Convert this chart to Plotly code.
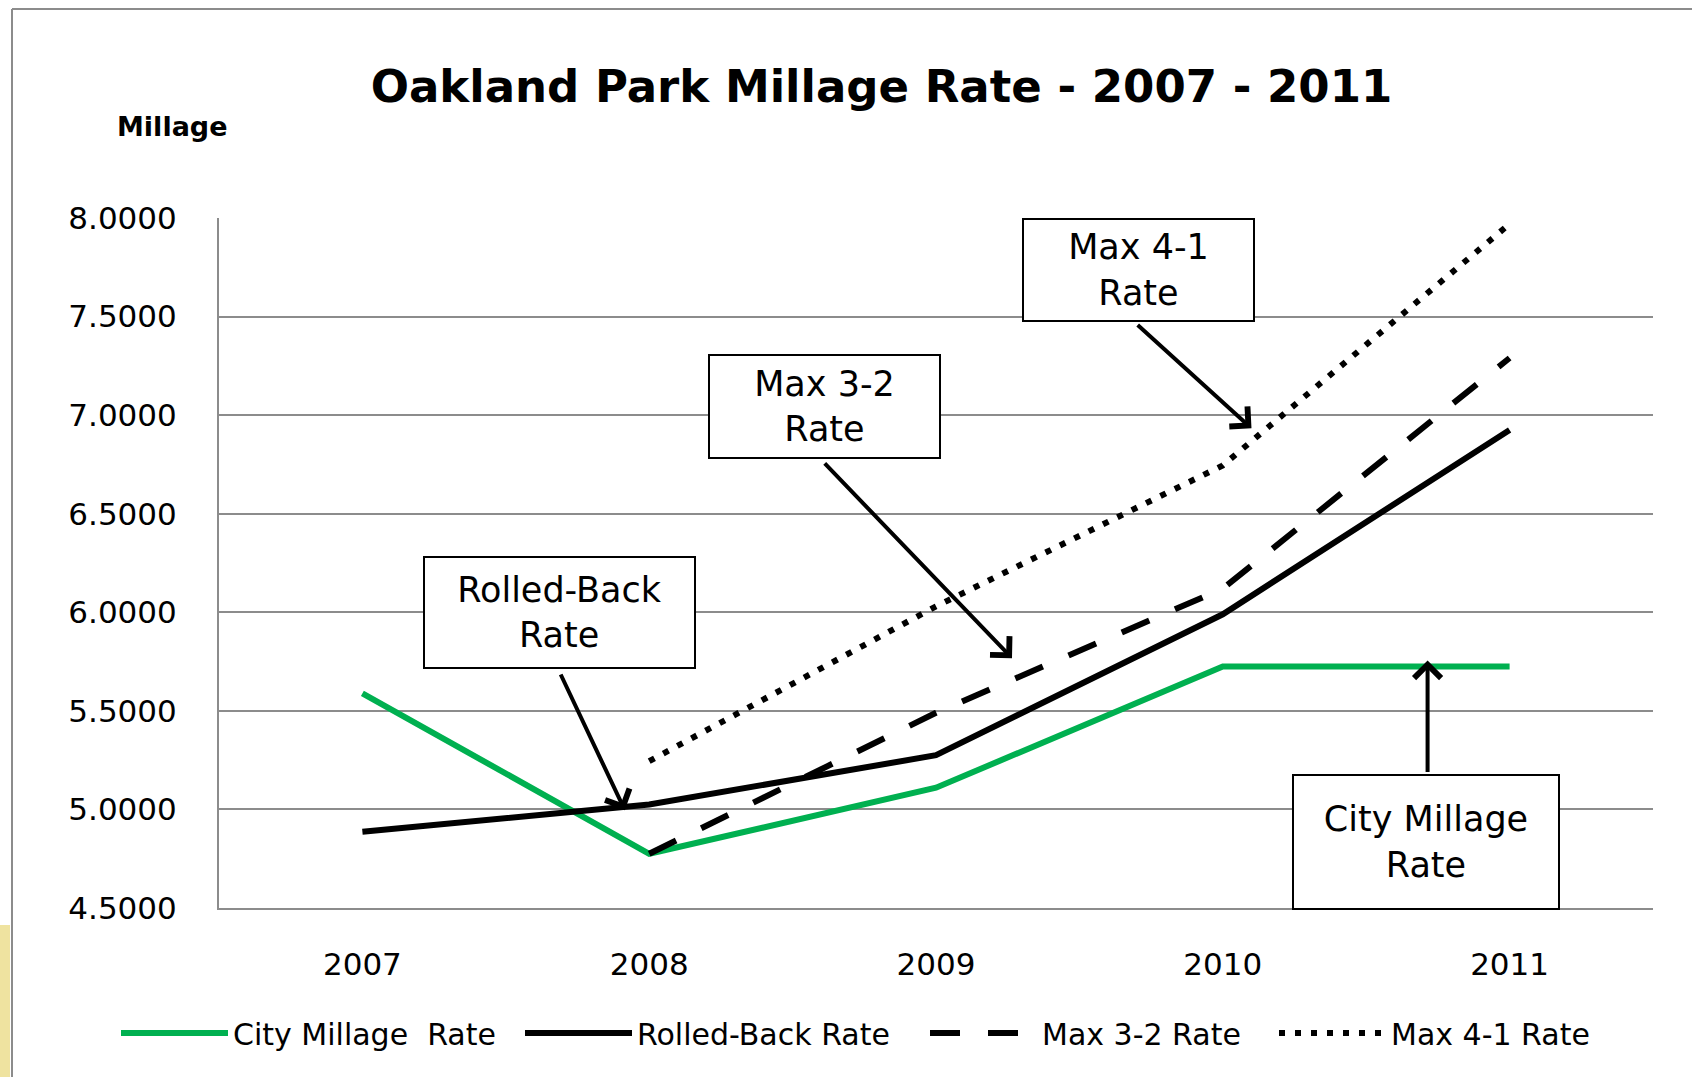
import plotly.graph_objects as go

years = ["2007", "2008", "2009", "2010", "2011"]
city_millage = [5.589, 4.775, 5.110, 5.725, 5.725]
rolled_back = [4.887, 5.025, 5.275, 5.990, 6.925]
max_3_2 = [None, 4.775, 5.490, 6.120, 7.290]
max_4_1 = [None, 5.245, 6.030, 6.745, 7.970]

series_names = ["City Millage  Rate", "Rolled-Back Rate", "Max 3-2 Rate", "Max 4-1 Rate"]
title_text = "Oakland Park Millage Rate - 2007 - 2011"
y_label = "Millage"

# callout boxes: (text, box centre x, box centre y, width px, height px, arrow tail x, tail y, head x, head y)
callouts = [
    ("Rolled-Back<br>Rate", 0.687, 5.999, 273, 113, 0.689, 5.692, 0.915, 4.996),
    ("Max 3-2<br>Rate", 1.611, 7.045, 233, 105, 1.607, 6.763, 2.265, 5.767),
    ("Max 4-1<br>Rate", 2.706, 7.737, 233, 104, 2.698, 7.464, 3.100, 6.933),
    ("City Millage<br>Rate", 3.710, 4.837, 268, 136, 3.714, 5.182, 3.714, 5.756),
]

FONT = "DejaVu Sans"
L, R, T, B = 219, 39, 218, 169
W, H = 1692, 1077
pw, ph = W - L - R, H - T - B


def px_x(p):
    return (p - L) / pw


def px_y(p):
    return (H - B - p) / ph


legend_ids = ["legend", "legend2", "legend3", "legend4"]
legend_line_starts = [121, 525, 930, 1279]

fig = go.Figure()
fig.add_trace(go.Scatter(x=years, y=city_millage, name=series_names[0], mode="lines",
                         legend=legend_ids[0], line=dict(color="#00b050", width=6)))
fig.add_trace(go.Scatter(x=years, y=rolled_back, name=series_names[1], mode="lines",
                         legend=legend_ids[1], line=dict(color="black", width=6)))
fig.add_trace(go.Scatter(x=years, y=max_3_2, name=series_names[2], mode="lines",
                         legend=legend_ids[2], line=dict(color="black", width=6, dash="30px,28px")))
fig.add_trace(go.Scatter(x=years, y=max_4_1, name=series_names[3], mode="lines",
                         legend=legend_ids[3], line=dict(color="black", width=6, dash="6px,10px")))

annotations = []
for text, bx, by, bw, bh, tx, ty, hx, hy in callouts:
    annotations.append(dict(x=hx, y=hy, ax=tx, ay=ty, xref="x", yref="y", axref="x", ayref="y",
                            text="", showarrow=True, arrowhead=4, arrowsize=1.3, arrowwidth=4,
                            arrowcolor="black", standoff=0, startstandoff=0))
    annotations.append(dict(x=bx, y=by, xref="x", yref="y", text=text, showarrow=False,
                            xanchor="center", yanchor="middle", width=bw - 4, height=bh - 4,
                            bgcolor="white", bordercolor="black", borderwidth=2, borderpad=0,
                            font=dict(family=FONT, size=35, color="black"), align="center"))

annotations.append(dict(x=px_x(172), y=px_y(127), xref="paper", yref="paper",
                        text="<b>" + y_label + "</b>", showarrow=False, xanchor="center",
                        yanchor="middle", font=dict(family=FONT, size=27, color="black")))

shapes = [
    dict(type="line", xref="paper", yref="paper", x0=px_x(12), x1=px_x(12), y0=px_y(H), y1=px_y(9),
         line=dict(color="#8c8c8c", width=2)),
    dict(type="line", xref="paper", yref="paper", x0=px_x(12), x1=px_x(W), y0=px_y(9), y1=px_y(9),
         line=dict(color="#8c8c8c", width=2)),
    dict(type="rect", xref="paper", yref="paper", x0=px_x(0), x1=px_x(10), y0=px_y(H), y1=px_y(925),
         fillcolor="#efe3a0", line=dict(width=0), layer="below"),
]

legend_layouts = {}
for lid, start in zip(legend_ids, legend_line_starts):
    legend_layouts[lid] = dict(orientation="h", x=px_x(start - 5), xanchor="left",
                               y=px_y(1033), yanchor="middle",
                               font=dict(family=FONT, size=30, color="black"), itemwidth=107,
                               bgcolor="rgba(0,0,0,0)")

fig.update_layout(
    width=W, height=H,
    margin=dict(l=L, r=R, t=T, b=B, pad=0),
    paper_bgcolor="white", plot_bgcolor="white",
    font=dict(family=FONT, color="black", size=30),
    title=dict(text="<b>" + title_text + "</b>", x=881.5 / W, xanchor="center",
               y=1 - 86 / H, yanchor="middle", font=dict(family=FONT, size=45, color="black")),
    xaxis=dict(type="category", range=[-0.5, 4.5], showgrid=False, showline=True,
               linecolor="#8c8c8c", linewidth=2, ticks="", ticklabelstandoff=28,
               tickfont=dict(family=FONT, size=31, color="black"), fixedrange=True),
    yaxis=dict(range=[4.5, 8.0], dtick=0.5, tick0=4.5, tickformat=".4f", showgrid=True,
               gridcolor="#8c8c8c", gridwidth=2, showline=True, linecolor="#8c8c8c", linewidth=2,
               zeroline=False, ticks="", ticklabelstandoff=34,
               tickfont=dict(family=FONT, size=31, color="black")),
    annotations=annotations,
    shapes=shapes,
    showlegend=True,
    **legend_layouts,
)

fig.write_html("out.html")
